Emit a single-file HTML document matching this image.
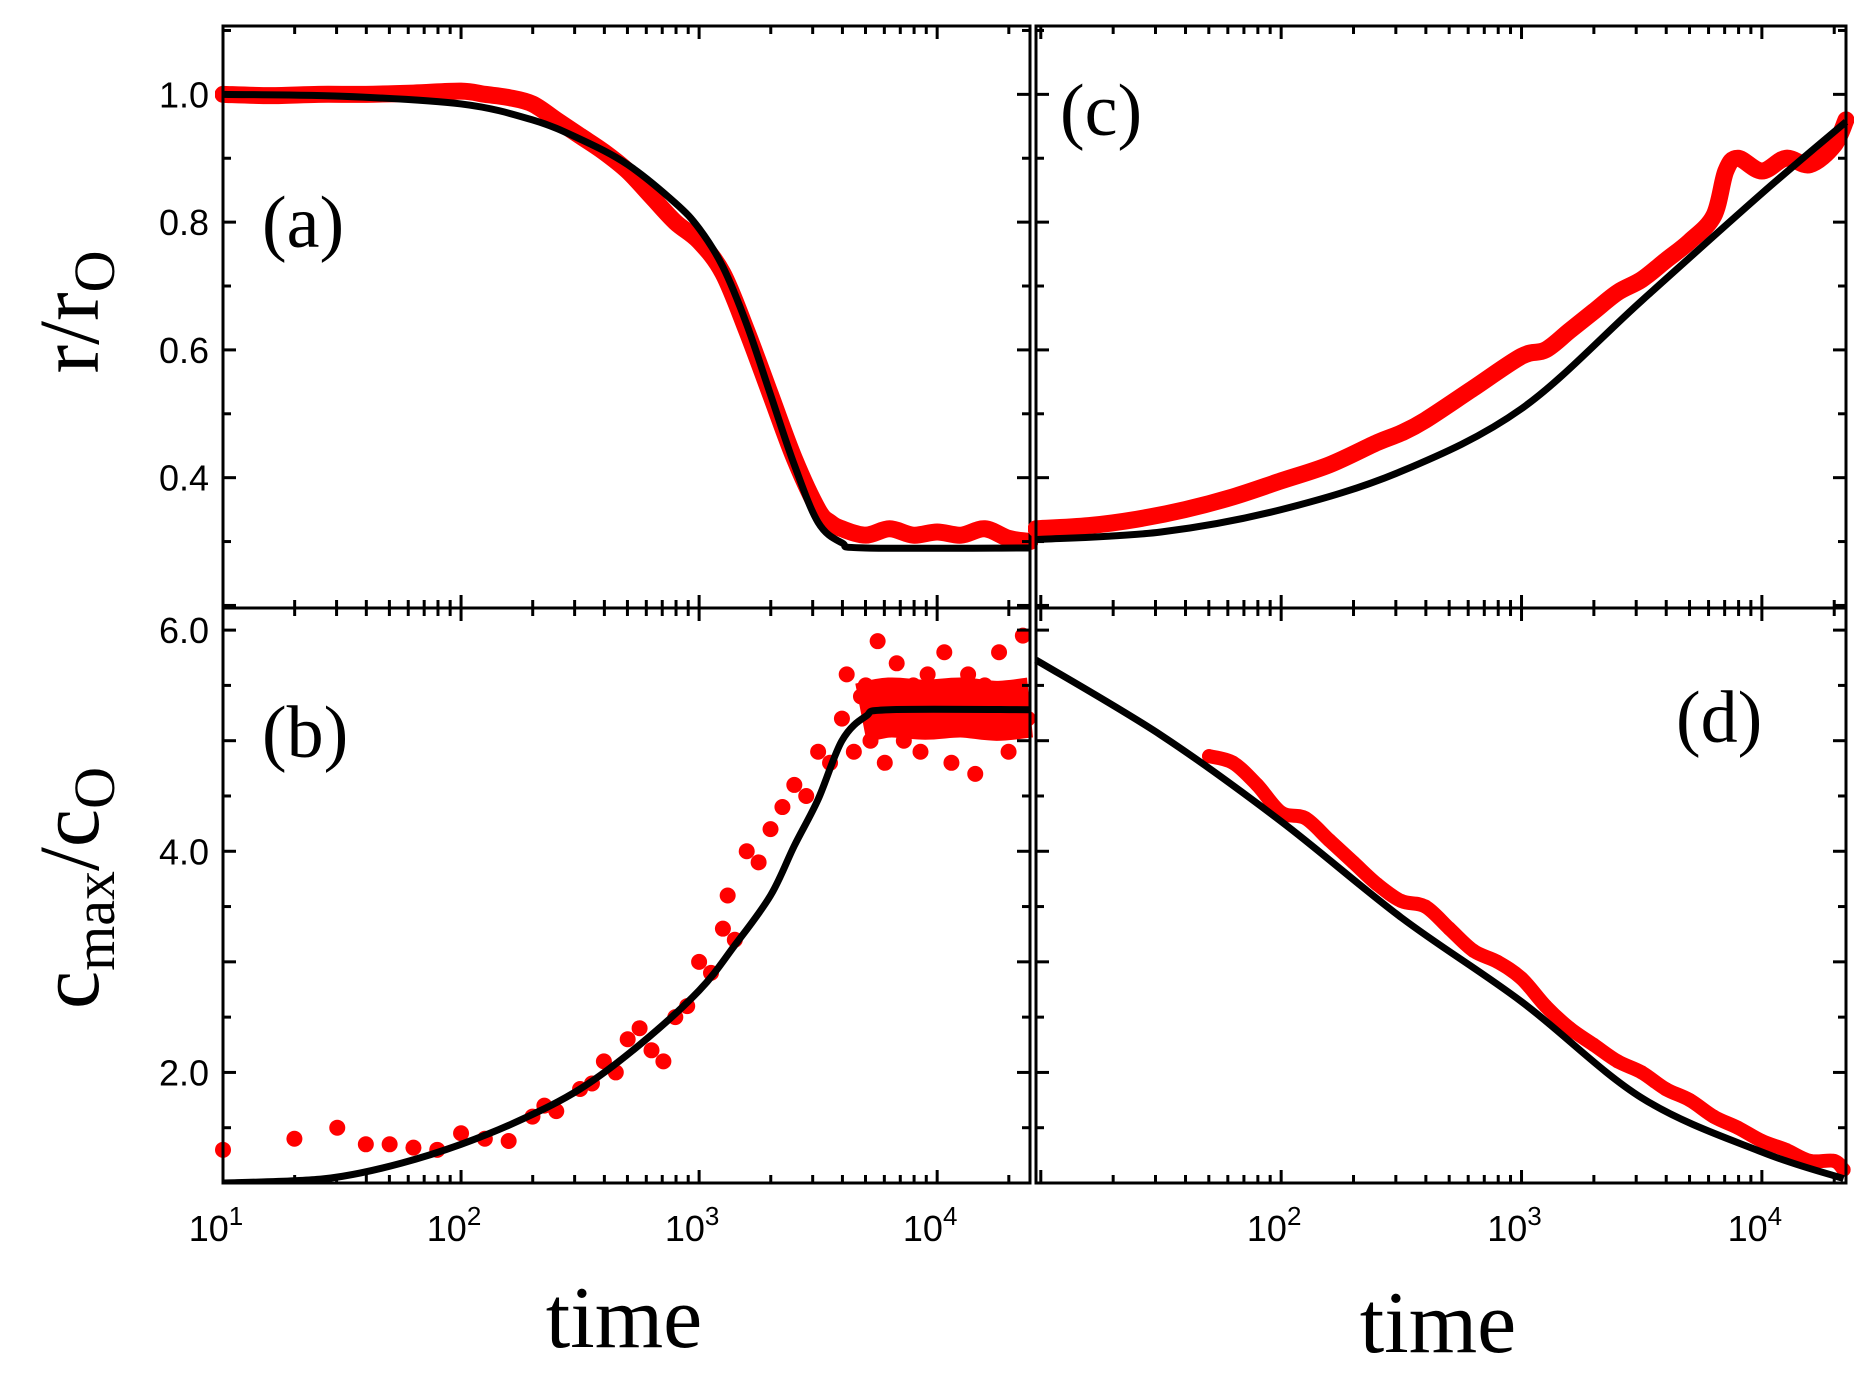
<!DOCTYPE html>
<html><head><meta charset="utf-8"><style>
html,body{margin:0;padding:0;background:#fff;}
svg{display:block;}
.tick{font-family:"Liberation Sans",sans-serif;font-size:36px;fill:#000;}
.ser{font-family:"Liberation Serif",serif;fill:#000;}
</style></head><body>
<svg id="fig" width="1866" height="1375" viewBox="0 0 1866 1375" xmlns="http://www.w3.org/2000/svg">
<text class="ser" font-size="86" transform="translate(98,312) rotate(-90)" text-anchor="middle">r/r<tspan font-size="58" dy="16">O</tspan></text>
<text class="ser" font-size="86" transform="translate(98,888) rotate(-90)" text-anchor="middle">c<tspan font-size="58" dy="16">max</tspan><tspan dy="-16">/c</tspan><tspan font-size="58" dy="16">O</tspan></text>
<text class="ser" font-size="88" x="624" y="1347" text-anchor="middle">time</text>
<text class="ser" font-size="88" x="1438" y="1352" text-anchor="middle">time</text>
</svg>
<script>
// ---- data (x values are log10(time)) ----
const aFitX=[1,1.5,2,2.3,2.5,2.7,2.9,3.0,3.1,3.2,3.3,3.4,3.5,3.6,3.7,4.39];
const aFitY=[1.0,0.997,0.985,0.96,0.93,0.89,0.83,0.79,0.73,0.64,0.53,0.42,0.33,0.298,0.29,0.29];
const aDatX=[1,1.2,1.4,1.6,1.8,2.0,2.1,2.2,2.3,2.4,2.5,2.6,2.7,2.8,2.9,3.0,3.1,3.2,3.3,3.4,3.5,3.55,3.6,3.7,3.8,3.9,4.0,4.1,4.2,4.3,4.39];
const aDatY=[1.0,0.998,1.0,1.0,1.002,1.005,1.0,0.995,0.985,0.96,0.935,0.91,0.88,0.84,0.80,0.77,0.72,0.63,0.53,0.43,0.35,0.33,0.32,0.31,0.32,0.31,0.315,0.31,0.32,0.305,0.30];
const cFitX=[0.98,1.5,2,2.5,3,3.5,4,4.35];
const cFitY=[0.303,0.315,0.35,0.41,0.508,0.677,0.845,0.957];
const cDatX=[0.98,1.2,1.4,1.6,1.8,2.0,2.2,2.4,2.5,2.6,2.8,3.0,3.1,3.2,3.3,3.4,3.5,3.6,3.7,3.8,3.85,3.9,4.0,4.1,4.2,4.3,4.35];
const cDatY=[0.32,0.325,0.335,0.35,0.37,0.395,0.42,0.455,0.47,0.49,0.54,0.59,0.6,0.63,0.66,0.69,0.71,0.74,0.77,0.81,0.88,0.9,0.88,0.9,0.89,0.92,0.96];
const bFitX=[1,1.3,1.5,1.75,2,2.25,2.5,2.75,3,3.15,3.3,3.4,3.5,3.6,3.7,3.8,4.39];
const bFitY=[1.0,1.02,1.06,1.18,1.35,1.57,1.85,2.25,2.74,3.15,3.6,4.05,4.47,5.0,5.22,5.28,5.28];
const bDatX=[1,1.3,1.48,1.6,1.7,1.8,1.9,2.0,2.1,2.2,2.3,2.35,2.4,2.5,2.55,2.6,2.65,2.7,2.75,2.8,2.85,2.9,2.95,3.0,3.05,3.1,3.12,3.15,3.2,3.25,3.3,3.35,3.4,3.45,3.5,3.55,3.6,3.62,3.65,3.68,3.7,3.72,3.75,3.78,3.8,3.83,3.86,3.9,3.93,3.96,4.0,4.03,4.06,4.1,4.13,4.16,4.2,4.23,4.26,4.3,4.33,4.36,4.38];
const bDatY=[1.3,1.4,1.5,1.35,1.35,1.32,1.3,1.45,1.4,1.38,1.6,1.7,1.65,1.85,1.9,2.1,2.0,2.3,2.4,2.2,2.1,2.5,2.6,3.0,2.9,3.3,3.6,3.2,4.0,3.9,4.2,4.4,4.6,4.5,4.9,4.8,5.2,5.6,4.9,5.4,5.5,5.0,5.9,4.8,5.3,5.7,5.0,5.5,4.9,5.6,5.2,5.8,4.8,5.4,5.6,4.7,5.5,5.1,5.8,4.9,5.4,5.95,5.2];
const bBandX=[3.68,3.8,3.95,4.1,4.25,4.39];
const bBandY=[5.25,5.3,5.28,5.3,5.27,5.3];
const dFitX=[0.98,1.5,2,2.5,3,3.5,4,4.34];
const dFitY=[5.73,5.05,4.27,3.4,2.64,1.77,1.28,1.04];
const dDatX=[1.7,1.8,1.9,2.0,2.1,2.2,2.3,2.4,2.5,2.6,2.7,2.8,2.9,3.0,3.1,3.2,3.3,3.4,3.5,3.6,3.7,3.8,3.9,4.0,4.1,4.2,4.3,4.34];
const dDatY=[4.86,4.8,4.6,4.35,4.3,4.1,3.9,3.7,3.55,3.5,3.3,3.1,3.0,2.85,2.6,2.4,2.25,2.1,2.0,1.85,1.75,1.6,1.5,1.38,1.3,1.2,1.2,1.12];
const rTicks=[0.4,0.6,0.8,1.0];
const cTicks=[2.0,4.0,6.0];
const xTickLabels=["1","2","3","4"];

const svg=document.getElementById('fig');
const NS='http://www.w3.org/2000/svg';
function el(tag,attrs,parent){const e=document.createElementNS(NS,tag);for(const k in attrs)e.setAttribute(k,attrs[k]);(parent||svg).appendChild(e);return e;}
function smooth(pts){
 let d='M'+pts[0][0]+','+pts[0][1];
 for(let i=0;i<pts.length-1;i++){
  const p0=pts[Math.max(0,i-1)],p1=pts[i],p2=pts[i+1],p3=pts[Math.min(pts.length-1,i+2)];
  const c1=[p1[0]+(p2[0]-p0[0])/6,p1[1]+(p2[1]-p0[1])/6];
  const c2=[p2[0]-(p3[0]-p1[0])/6,p2[1]-(p3[1]-p1[1])/6];
  d+=' C'+c1[0]+','+c1[1]+' '+c2[0]+','+c2[1]+' '+p2[0]+','+p2[1];
 }
 return d;
}

const panels=[
 {id:'a',x0:223,x1:1030,y0:26,y1:608,lx0:1,lx1:4.39,ly0:0.196,ly1:1.107,fx:aFitX,fy:aFitY,dx:aDatX,dy:aDatY,band:17,yt:rTicks,ymin:0.1,lab:'(a)',labx:262,laby:247,ylab:true,xlab:false},
 {id:'c',x0:1036,x1:1846,y0:26,y1:608,lx0:0.98,lx1:4.35,ly0:0.196,ly1:1.107,fx:cFitX,fy:cFitY,dx:cDatX,dy:cDatY,band:17,yt:rTicks,ymin:0.1,lab:'(c)',labx:1060,laby:135,ylab:false,xlab:false},
 {id:'b',x0:223,x1:1030,y0:608,y1:1183,lx0:1,lx1:4.39,ly0:1.0,ly1:6.2,fx:bFitX,fy:bFitY,dx:bDatX,dy:bDatY,band:0,yt:cTicks,ymin:0.5,lab:'(b)',labx:262,laby:757,ylab:true,xlab:true},
 {id:'d',x0:1036,x1:1846,y0:608,y1:1183,lx0:0.98,lx1:4.35,ly0:1.0,ly1:6.2,fx:dFitX,fy:dFitY,dx:dDatX,dy:dDatY,band:14,yt:cTicks,ymin:0.5,lab:'(d)',labx:1676,laby:742,ylab:false,xlab:true}
];
panels.forEach(p=>{
 const g=el('g',{});
 
 
 const X=v=>p.x0+(v-p.lx0)/(p.lx1-p.lx0)*(p.x1-p.x0);
 const Y=v=>p.y1-(v-p.ly0)/(p.ly1-p.ly0)*(p.y1-p.y0);
 const cp=el('clipPath',{id:'clip'+p.id},g);
 el('rect',{x:p.x0-8,y:p.y0,width:p.x1-p.x0+16,height:p.y1-p.y0},cp);
 const dg=el('g',{'clip-path':'url(#clip'+p.id+')'},g);
 if(p.band>0){
  const band=el('path',{d:smooth(p.dx.map((v,i)=>[X(v),Y(p.dy[i])])),fill:'none',stroke:'#ff0000','stroke-width':p.band,'stroke-linejoin':'round','stroke-linecap':'round'},dg);
  
  
 }
 if(p.id==='b'){
  const bb=el('path',{d:smooth(bBandX.map((v,i)=>[X(v),Y(bBandY[i])])),fill:'none',stroke:'#ff0000','stroke-width':60,'stroke-linecap':'butt'},dg);
  
  
 }
 p.dx.forEach((v,i)=>{
  const c=el('circle',{cx:X(v),cy:Y(p.dy[i]),r:p.band>0?7:8,fill:'#ff0000'},dg);
  
  
 });
 const fit=el('path',{d:smooth(p.fx.map((v,i)=>[X(v),Y(p.fy[i])])),fill:'none',stroke:'#000','stroke-width':7,'stroke-linejoin':'round'},dg);
 
 
 const fr=el('rect',{x:p.x0,y:p.y0,width:p.x1-p.x0,height:p.y1-p.y0,fill:'none',stroke:'#000','stroke-width':3},g);
 
 
 for(let d=0;d<=4;d++){for(let m=1;m<10;m++){
  const lv=d+Math.log10(m); if(lv<p.lx0-0.001||lv>p.lx1)continue;
  const len=m===1?13:8; const xx=X(lv);
  el('line',{x1:xx,x2:xx,y1:p.y1,y2:p.y1-len,stroke:'#000','stroke-width':3},g);
  el('line',{x1:xx,x2:xx,y1:p.y0,y2:p.y0+len,stroke:'#000','stroke-width':3},g);
 }}
 if(p.xlab){xTickLabels.forEach(s=>{const lv=+s; if(p.id==='d'&&lv<1.5)return; if(lv<p.lx0)return;
  const t=el('text',{x:X(lv)-7,y:p.y1+58,'text-anchor':'middle',class:'tick'},g);
  
  
  t.textContent='10';const sp=el('tspan',{dy:-16,'font-size':26},t);sp.textContent=s;});}
 for(let v=Math.ceil(p.ly0/p.ymin)*p.ymin;v<=p.ly1+1e-6;v+=p.ymin){
  const isMaj=Math.abs((v/(p.ymin*2))-Math.round(v/(p.ymin*2)))<1e-6;
  const len=isMaj?13:8;const yy=Y(v);
  el('line',{x1:p.x0,x2:p.x0+len,y1:yy,y2:yy,stroke:'#000','stroke-width':3},g);
  el('line',{x1:p.x1,x2:p.x1-len,y1:yy,y2:yy,stroke:'#000','stroke-width':3},g);
 }
 if(p.ylab){p.yt.forEach(v=>{
  const t=el('text',{x:p.x0-14,y:Y(v)+13,'text-anchor':'end',class:'tick'},g);
  
  
  t.textContent=v.toFixed(1);});}
 const lb=el('text',{x:p.labx,y:p.laby,class:'ser','font-size':74},g);
 
 
 lb.textContent=p.lab;
});
</script>
</body></html>
